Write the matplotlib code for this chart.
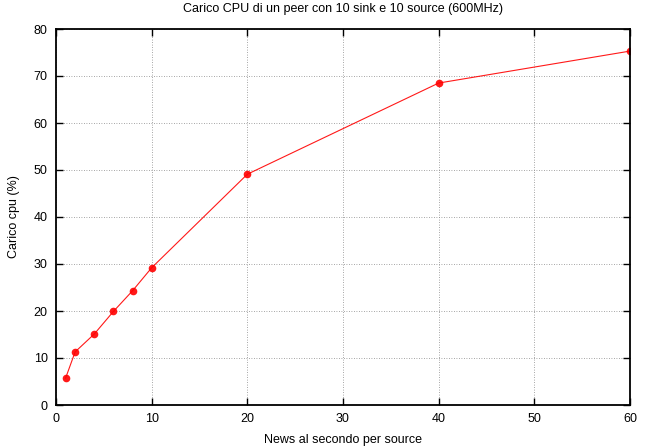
import matplotlib
matplotlib.use("Agg")
import matplotlib.pyplot as plt

plt.rcParams['font.family'] = ['Liberation Sans', 'DejaVu Sans']

# news al secondo per source vs carico cpu
news = [1, 2, 4, 6, 8, 10, 20, 40, 60]
carico = [5.7, 11.3, 15.1, 19.9, 24.3, 29.2, 49.1, 68.5, 75.3]

xticks = [0, 10, 20, 30, 40, 50, 60]
yticks = [0, 10, 20, 30, 40, 50, 60, 70, 80]

fig = plt.figure(figsize=(6.47, 4.46), dpi=100)
ax = fig.add_axes([56/647, 1 - 405/446, (630-56)/647, (405-29)/446])

ax.plot(news, carico, color='#ff0000', linewidth=0.8, marker='o',
        markersize=5.5, markeredgewidth=0, alpha=0.9)

ax.set_xlim(0, 60)
ax.set_ylim(0, 80)
ax.set_xticks(xticks)
ax.set_yticks(yticks)
ax.tick_params(direction='in', top=True, right=True, length=5, width=1,
               labelsize=9, pad=6)
ax.grid(True, color='#888888', linestyle=(0, (1, 2)), linewidth=0.6)
for s in ax.spines.values():
    s.set_linewidth(1.3)

ax.set_title('Carico CPU di un peer con 10 sink e 10 source (600MHz)',
             fontsize=9, pad=12)
ax.set_xlabel('News al secondo per source', fontsize=9, labelpad=6)
ax.set_ylabel('Carico cpu (%)', fontsize=9, labelpad=10)

fig.savefig('out.png', dpi=100)
